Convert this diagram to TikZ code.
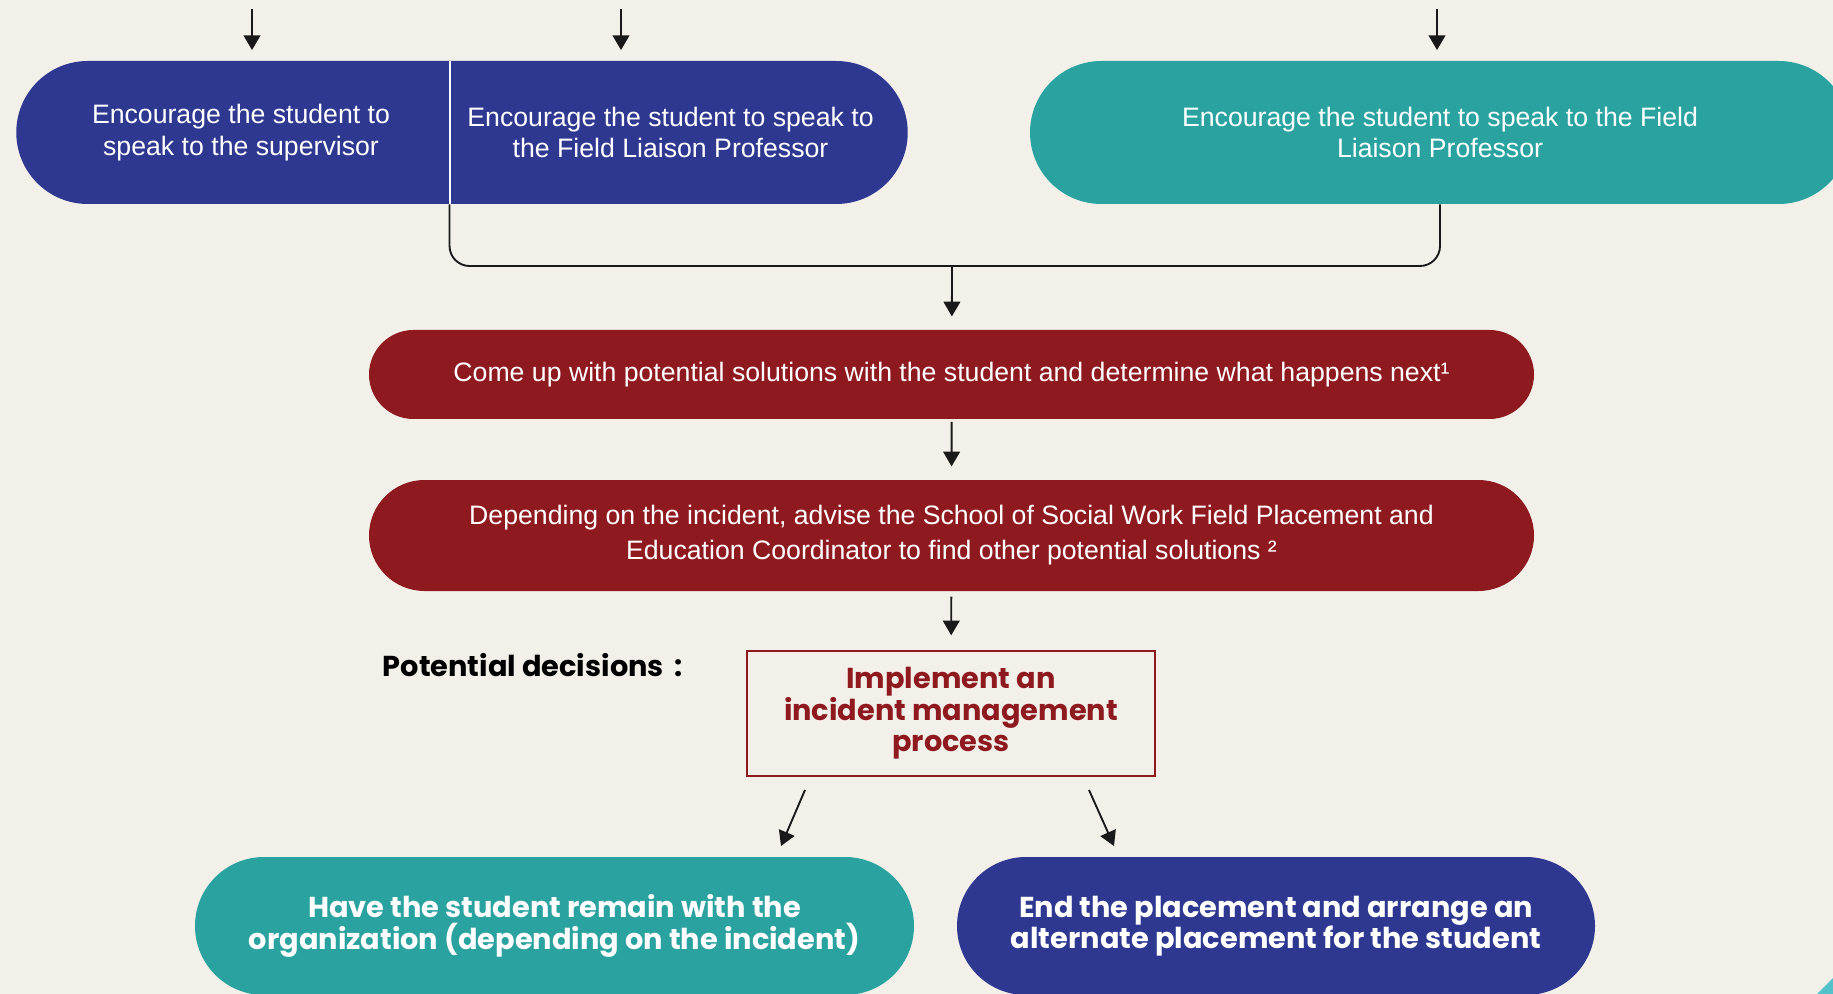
\documentclass[tikz,border=0pt]{standalone}
\usepackage{fontspec}
\setmainfont{Liberation Sans}
\newfontfamily\geo{Poppins}
\usetikzlibrary{shapes.misc,arrows.meta}

\definecolor{paper}{HTML}{F3F0EA}
\definecolor{navy}{HTML}{2E3891}
\definecolor{sea}{HTML}{2AA3A0}
\definecolor{wine}{HTML}{8E1A20}
\definecolor{aqua}{HTML}{52C3CA}

\def\pix{0.75pt}

\begin{document}
\begin{tikzpicture}[x=\pix, y=-\pix]
			\tikzset{edge/.style={-{Triangle[length=11pt,width=12.5pt]}, line width=1.4pt, black!90},
				pill/.style={shape=rounded rectangle, inner sep=0pt, align=center, text=white},
				body/.style={font=\fontsize{20}{23.7}\selectfont},
				bold/.style={font=\geo\bfseries\fontsize{21.6}{23.7}\selectfont}}
			\useasboundingbox (0,0) rectangle (1833,994);
			\fill[paper] (0,0) rectangle (1833,994);
			\clip (0,0) rectangle (1833,994);
			\node[pill, body, fill=navy, rounded rectangle right arc=none, minimum width=433*\pix, minimum height=143*\pix, anchor=west](sup) at (16,132.5){\hspace*{8pt}Encourage the student to\\\hspace*{8pt}speak to the supervisor};
			\node[pill, body, fill=navy, rounded rectangle left arc=none, minimum width=459*\pix, minimum height=143*\pix, anchor=east](prof) at (908,132.5){Encourage the student to speak to\hspace*{8pt}\\the Field Liaison Professor\hspace*{8pt}};
			\node[pill, body, fill=sea, minimum width=820*\pix, minimum height=143*\pix](prof2) at (1440,132.5){Encourage the student to speak to the Field\\Liaison Professor};
			\draw[white, line width=1.5pt] (sup.east |- sup.north) -- (sup.east |- sup.south);
			\node[pill, body, fill=wine, minimum width=1165*\pix, minimum height=89*\pix](sol) at (951.5,374.5){Come up with potential solutions with the student and determine what happens next¹};
			\node[pill, font=\fontsize{20}{26.3}\selectfont, fill=wine, minimum width=1165*\pix, minimum height=111*\pix](adv) at (951.5,535.5){Depending on the incident, advise the School of Social Work Field Placement and\\Education Coordinator to find other potential solutions ²};
			\node[bold, draw=wine, line width=1.5pt, text=wine, align=center, minimum width=408*\pix, minimum height=125*\pix, inner sep=0pt](imp) at (951,713.5){Implement an\\incident management\\process};
			\node[bold, anchor=west](lbl) at (378,665){Potential decisions\, :};
			\node[pill, bold, fill=sea, minimum width=719*\pix, minimum height=138*\pix](stay) at (554.5,926){Have the student remain with the\\organization (depending on the incident)};
			\node[pill, bold, fill=navy, minimum width=638*\pix, minimum height=138*\pix](end) at (1276,926){End the placement and arrange an\\alternate placement for the student};
			\coordinate(t1) at (252,9);
			\coordinate(t2) at (621,9);
			\coordinate(t3) at (1437,9);
			\coordinate(j) at (952,266);
			\draw[edge, shorten >=8pt] (t1)--(t1 |- sup.north);
			\draw[edge, shorten >=8pt] (t2)--(t2 |- prof.north);
			\draw[edge, shorten >=8pt] (t3)--(t3 |- prof2.north);
			\draw[line width=1.4pt, black!90, rounded corners=15pt] (sup.east |- sup.south) |- (j) -| (prof2.south);
			\draw[edge, shorten >=10pt] (j)--(sol);
			\draw[edge, shorten <=2pt, shorten >=10pt] (sol)--(adv);
			\draw[edge, shorten <=4pt, shorten >=11pt] (adv)--(imp);
			\draw[edge] (imp.south) ++(-146,13) -- ++(-24,56);
			\draw[edge] (imp.south) ++(138,13) -- ++(25,56);
			\fill[aqua] (1817,994) -- (1833,978) -- (1833,994) -- cycle;
		\end{tikzpicture}
\end{document}
